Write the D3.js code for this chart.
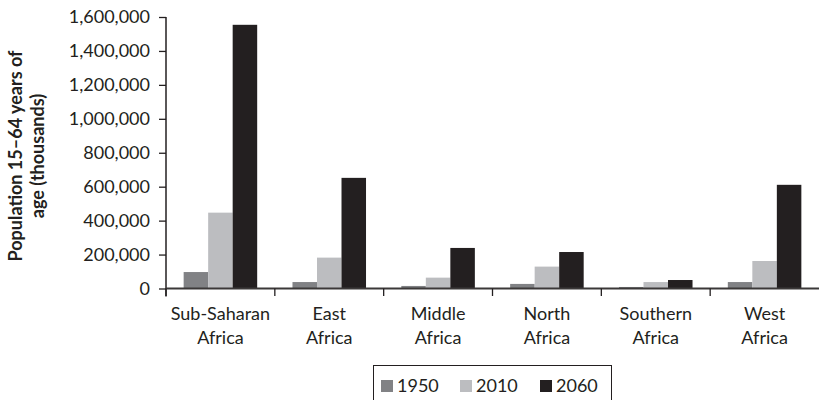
<!DOCTYPE html>
<html>
<head>
<meta charset="utf-8">
<script src="https://cdn.jsdelivr.net/npm/d3@7"></script>
<style>
  html, body { margin: 0; padding: 0; background: #fff; }
  svg { display: block; }
  text { font-family: Lato, "Open Sans", "Liberation Sans", sans-serif; fill: #231f20; }
</style>
</head>
<body>
<svg id="chart" width="819" height="400"></svg>
<script>
const categories = [["Sub-Saharan", "Africa"], ["East", "Africa"], ["Middle", "Africa"], ["North", "Africa"], ["Southern", "Africa"], ["West", "Africa"]];
const years = ["1950", "2010", "2060"];
const values1950 = [97000, 38000, 15000, 27000, 9000, 38000];
const values2010 = [447000, 182000, 64000, 129000, 38000, 162000];
const values2060 = [1554000, 652000, 239000, 215000, 50000, 611000];
const yTicks = [0, 200000, 400000, 600000, 800000, 1000000, 1200000, 1400000, 1600000];
const colors = ["#818285", "#bcbdc0", "#231f20"];

(function () {
const series = [values1950, values2010, values2060];
const catKeys = categories.map(c => c.join(" "));

const svg = d3.select("#chart");
const mLeft = 166, mRight = 819, mTop = 17, mBottom = 288.5;

const x0 = d3.scaleBand().domain(catKeys).range([mLeft, mRight]).paddingInner(0).paddingOuter(0);
const x1 = d3.scaleBand().domain(years).range([0, x0.bandwidth()]).paddingInner(0).paddingOuter(0.72);
const y = d3.scaleLinear().domain([0, 1600000]).range([mBottom, mTop]);
const color = d3.scaleOrdinal().domain(years).range(colors);

// bars
const groups = svg.append("g").selectAll("g").data(catKeys).join("g")
  .attr("transform", d => `translate(${x0(d)},0)`);
groups.selectAll("rect")
  .data((d, i) => years.map((yr, j) => ({ yr, v: series[j][i] })))
  .join("rect")
  .attr("x", d => x1(d.yr))
  .attr("width", x1.bandwidth())
  .attr("y", d => y(d.v))
  .attr("height", d => mBottom - y(d.v))
  .attr("fill", d => color(d.yr));

// y axis
const yAxis = d3.axisLeft(y).tickValues(yTicks).tickSize(7).tickPadding(9)
  .tickFormat(d3.format(","));
const gy = svg.append("g").attr("transform", `translate(${mLeft},0)`).call(yAxis);
gy.select(".domain").attr("stroke", "#231f20").attr("stroke-width", 1.5)
  .attr("d", `M0,${mTop}V${mBottom + 8}`);
gy.selectAll(".tick line").attr("stroke", "#231f20").attr("stroke-width", 1.3);
gy.selectAll(".tick text").attr("font-size", 18).attr("font-family", "Lato, 'Open Sans', sans-serif").attr("fill", "#231f20");

// x axis
const xAxis = d3.axisBottom(x0).tickSize(0).tickFormat("");
const gx = svg.append("g").attr("transform", `translate(0,${mBottom})`).call(xAxis);
gx.select(".domain").attr("stroke", "#3b3838").attr("stroke-width", 2).attr("d", `M${mLeft},0H${mRight}`);
const bounds = catKeys.map(k => x0(k));
gx.selectAll(".bound").data(bounds).join("line").attr("class", "bound")
  .attr("x1", d => d).attr("x2", d => d).attr("y1", 0).attr("y2", 7.5)
  .attr("stroke", "#231f20").attr("stroke-width", 1.3);

// category labels
const cx = i => x0(catKeys[i]) + x0.bandwidth() / 2;
const labels = svg.append("g").selectAll("text").data(categories).join("text")
  .attr("text-anchor", "middle")
  .attr("font-size", 18);
labels.append("tspan").attr("y", 320).attr("x", (d, i) => cx(i)).text(d => d[0]);
labels.append("tspan").attr("y", 344).attr("x", (d, i) => cx(i)).text(d => d[1]);

// y title
const yt = svg.append("text").attr("transform", "translate(0,156) rotate(-90)")
  .attr("text-anchor", "middle").attr("font-size", 18).attr("font-weight", "bold");
yt.append("tspan").attr("x", 0).attr("y", 22).text("Population 15–64 years of");
yt.append("tspan").attr("x", 0).attr("y", 44).text("age (thousands)");

// legend
const lg = svg.append("g");
lg.append("rect").attr("x", 373.5).attr("y", 365.5).attr("width", 238).attr("height", 50)
  .attr("fill", "none").attr("stroke", "#231f20").attr("stroke-width", 1);
const legX = [381, 460, 540];
const li = lg.selectAll("g.item").data(years).join("g").attr("class", "item")
  .attr("transform", (d, i) => `translate(${legX[i]},0)`);
li.append("rect").attr("x", 0).attr("y", 380).attr("width", 12).attr("height", 12).attr("fill", d => color(d));
li.append("text").attr("x", 16).attr("y", 392).attr("font-size", 18).text(d => d);
})();
</script>
</body>
</html>
